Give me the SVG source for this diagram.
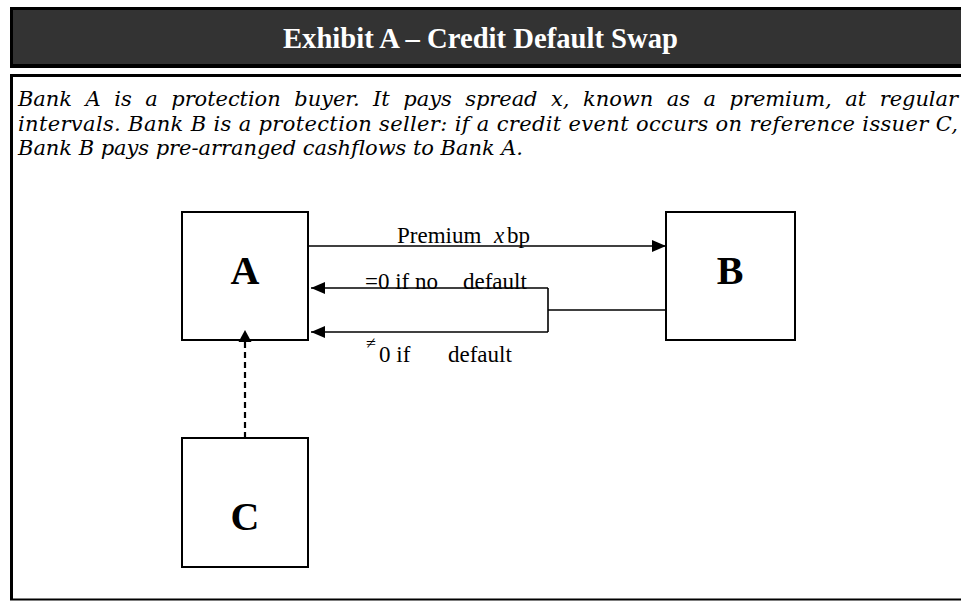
<svg xmlns="http://www.w3.org/2000/svg" width="961" height="601" viewBox="0 0 961 601">
<style>
.box{fill:#fff;stroke:#000;stroke-width:2}
.lbl{font-family:"Liberation Serif",serif;font-weight:bold;font-size:40px;text-anchor:middle;fill:#000}
.t{font-family:"Liberation Serif",serif;font-size:23px;fill:#000}
.body{font-family:"DejaVu Serif",serif;font-style:italic;font-size:21px;fill:#000}
.ln{fill:none;stroke:#000;stroke-width:1.6}
</style>
<defs>
<marker id="ah" viewBox="0 0 14 12" refX="14" refY="6" markerWidth="14" markerHeight="12" markerUnits="userSpaceOnUse" orient="auto">
<path d="M0,0 L14,6 L0,12 Z" fill="#000"/>
</marker>
</defs>
<rect width="961" height="601" fill="#fff"/>
<g id="header">
<rect x="10" y="7" width="960" height="61" fill="#000"/>
<rect x="13" y="10" width="960" height="54" fill="#333"/>
<text x="283" y="48" font-family="Liberation Serif, serif" font-weight="bold" font-size="29" fill="#fff" textLength="395" lengthAdjust="spacingAndGlyphs">Exhibit A – Credit Default Swap</text>
</g>
<g id="frame">
<line x1="10" y1="75.5" x2="961" y2="75.5" stroke="#000" stroke-width="3"/>
<line x1="11.5" y1="74" x2="11.5" y2="600" stroke="#000" stroke-width="3"/>
<line x1="10" y1="599.5" x2="961" y2="599.5" stroke="#000" stroke-width="2"/>
</g>
<g id="description" class="body">
<text x="18" y="106" word-spacing="7" textLength="940" lengthAdjust="spacing">Bank A is a protection buyer. It pays spread x, known as a premium, at regular</text>
<text x="18" y="131" textLength="940" lengthAdjust="spacing">intervals. Bank B is a protection seller: if a credit event occurs on reference issuer C,</text>
<text x="18" y="155" textLength="505" lengthAdjust="spacing">Bank B pays pre-arranged cashflows to Bank A.</text>
</g>
<g id="nodeA">
<rect class="box" x="182" y="212" width="126" height="128"/>
<text class="lbl" x="245" y="284">A</text>
</g>
<g id="nodeB">
<rect class="box" x="666" y="212" width="129" height="128"/>
<text class="lbl" x="730" y="284">B</text>
</g>
<g id="nodeC">
<rect class="box" x="182" y="438" width="126" height="129"/>
<text class="lbl" x="245" y="530">C</text>
</g>
<g id="connectors">
<line class="ln" x1="308" y1="246" x2="666" y2="246" marker-end="url(#ah)"/>
<polyline class="ln" points="666,310 548,310"/>
<polyline class="ln" points="548,288 548,332"/>
<line class="ln" x1="548" y1="288" x2="311" y2="288" marker-end="url(#ah)"/>
<line class="ln" x1="548" y1="332" x2="311" y2="332" marker-end="url(#ah)"/>
<line x1="245" y1="438" x2="245" y2="342" stroke="#000" stroke-width="2.2" stroke-dasharray="6,4"/>
<path d="M245,330 L251.5,342 L238.5,342 Z" fill="#000"/>
</g>
<g id="labels" class="t">
<text x="397" y="243">Premium</text>
<text x="494" y="243" font-style="italic">x</text>
<text x="507" y="243">bp</text>
<text x="365" y="289">=0 if no</text>
<text x="463" y="289">default</text>
<text x="366" y="349" font-size="18">≠</text>
<text x="379" y="362">0 if</text>
<text x="448" y="362">default</text>
</g>
</svg>
